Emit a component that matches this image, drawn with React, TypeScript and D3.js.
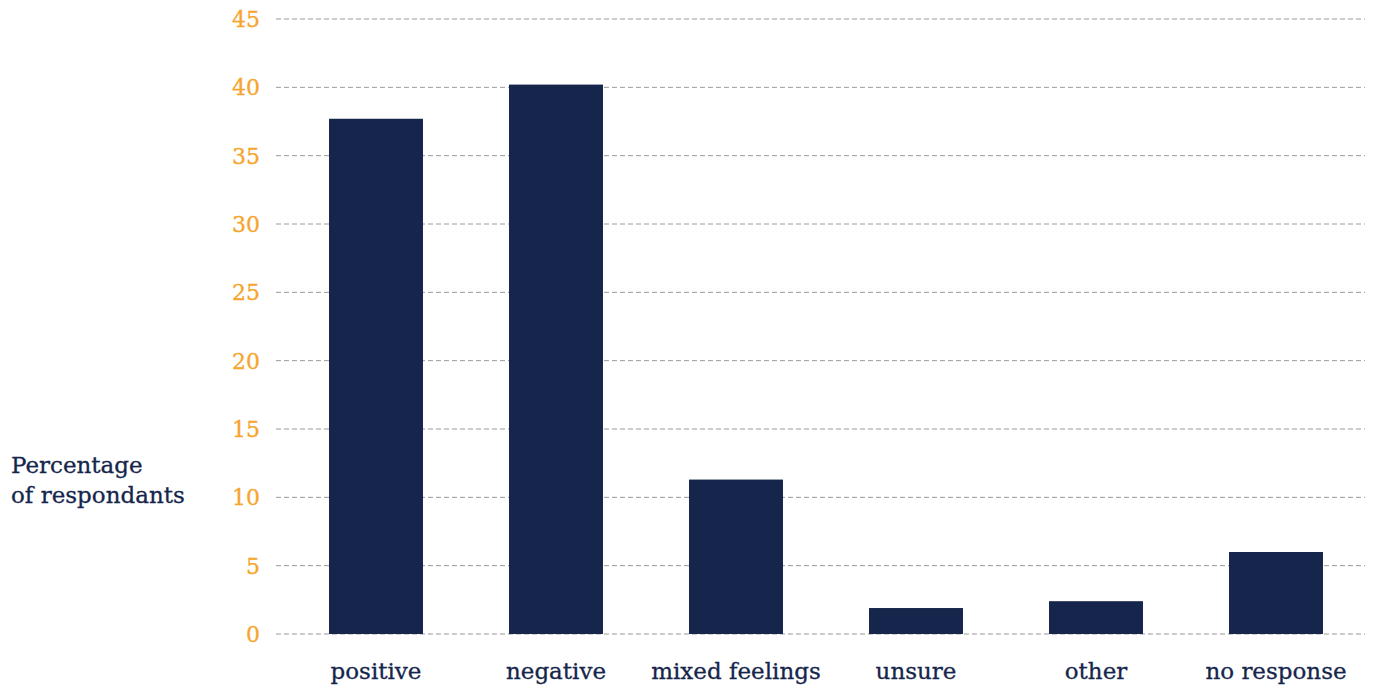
import React from "react";
import * as d3 from "d3";

const categories = ["positive", "negative", "mixed feelings", "unsure", "other", "no response"];
const values = [37.7, 40.2, 11.3, 1.9, 2.4, 6.0];
const yTicks = [0, 5, 10, 15, 20, 25, 30, 35, 40, 45];

const W = 1375;
const H = 690;
const FONT = "'DejaVu Serif', serif";
const NAVY = "#15254b";
const ORANGE = "#f6a52d";

export default function App() {
  const y = d3.scaleLinear().domain([0, 45]).range([634, 19]);
  const x = d3.scaleBand<string>().domain(categories).range([286, 1366]).paddingInner(0.478).paddingOuter(0.239);
  return (
    <svg width={W} height={H} style={{ position: "absolute", left: 0, top: 0 }}>
      <rect width={W} height={H} fill="#fff" />
      {yTicks.map((t) => (
        <g key={t}>
          <line x1={276} x2={1365} y1={y(t)} y2={y(t)} stroke="#9a9a9a" strokeWidth={1} strokeDasharray="5,3" />
          <text x={260} y={y(t)} dy="0.36em" textAnchor="end" fill={ORANGE} fontFamily={FONT} fontSize={22} stroke={ORANGE} strokeWidth={0.3}>
            {t}
          </text>
        </g>
      ))}
      {categories.map((c, i) => (
        <rect key={c} x={x(c)} y={y(values[i])} width={x.bandwidth()} height={y(0) - y(values[i])} fill={NAVY} />
      ))}
      {categories.map((c) => (
        <text key={c} x={(x(c) as number) + x.bandwidth() / 2} y={679} textAnchor="middle" fill={NAVY} fontFamily={FONT} fontSize={23} stroke={NAVY} strokeWidth={0.3}>
          {c}
        </text>
      ))}
      <text x={11} y={473} fill={NAVY} fontFamily={FONT} fontSize={23} stroke={NAVY} strokeWidth={0.3}>Percentage</text>
      <text x={11} y={503} fill={NAVY} fontFamily={FONT} fontSize={23} stroke={NAVY} strokeWidth={0.3}>of respondants</text>
    </svg>
  );
}
